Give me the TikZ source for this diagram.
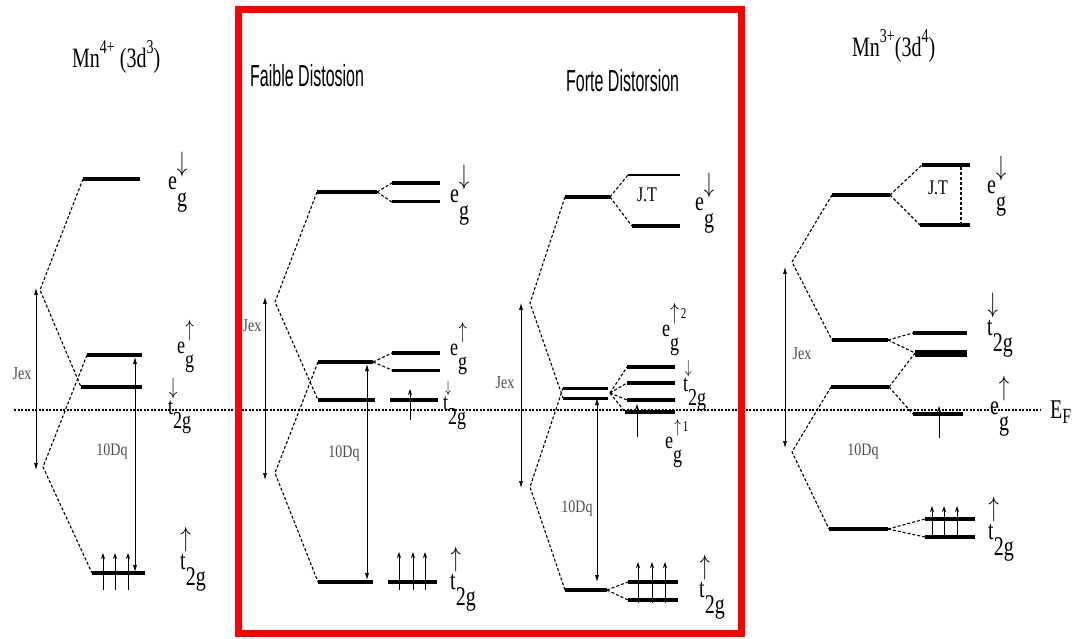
\documentclass[tikz,border=0pt]{standalone}
\usepackage{fontspec}
\setmainfont{Liberation Serif}
\setsansfont{Liberation Sans}
\usepackage{graphicx}
\usetikzlibrary{arrows.meta}
\newcommand{\mklevel}[5][lev]{\draw[#1] (#3,#5) coordinate (#2-l) -- (#4,#5) coordinate (#2-r);}
\newcommand{\tall}[2][1.35]{\scalebox{1}[#1]{#2}}
% #1 letter, #2 sub part under arrow, #3 rest of sub, #4 arrow, #5 arrow raise
\newcommand{\orblabel}[5]{\tall{#1\setbox0=\hbox{#2}\rlap{\hbox to \wd0{\hss\raisebox{#5}{#4}\hss}}\raisebox{-0.6em}{#2#3}}}
\begin{document}
\begin{tikzpicture}[x=1pt,y=-1pt,
  lev/.style={line width=4pt},
  thinlev/.style={line width=1.2pt},
  conn/.style={dash pattern=on 3pt off 2pt, line width=1.1pt},
  fermi/.style={dash pattern=on 2pt off 1.5pt, line width=1.3pt},
  gap/.style={line width=0.7pt, {Latex[length=7pt,width=4pt]}-{Latex[length=7pt,width=4pt]}},
  spin/.style={line width=0.9pt, -{Stealth[length=6pt,width=4pt]}},
  orb/.style={font=\fontsize{20}{22}\selectfont, inner sep=0pt},
  orbs/.style={font=\fontsize{18}{20}\selectfont, inner sep=0pt},
  small/.style={font=\fontsize{14}{15}\selectfont, inner sep=0pt, text=black!70},
  ttl/.style={font=\fontsize{20}{22}\selectfont, inner sep=0pt},
  ptitle/.style={font=\sffamily\fontsize{16}{18}\selectfont, inner sep=0pt},
  jt/.style={font=\fontsize{16}{18}\selectfont, inner sep=0pt}
]
\useasboundingbox (0,0) rectangle (1077,639);
\fill[white] (0,0) rectangle (1077,639);

% Fermi level
\coordinate (F-l) at (14,410);
\coordinate (F-r) at (1040,410);
\draw[fermi] (F-l) -- (F-r);

% ================= Panel A : Mn4+ =================
\node[ttl, anchor=base west] (A-title) at (72,68) {\tall[1.4]{Mn\raisebox{0.5em}{\fontsize{14}{14}\selectfont 4+} (3d\raisebox{0.5em}{\fontsize{14}{14}\selectfont 3})}};
\mklevel{A-egd}{83}{140}{179}
\mklevel{A-egu}{87}{142}{355}
\mklevel[lev,line width=4.5pt]{A-t2d}{81}{142}{387}
\mklevel{A-t2u}{92}{145}{573}
\coordinate (A-v1) at (40,290);
\coordinate (A-v2) at (43,467);
\draw[conn] (A-egd-l) -- (A-v1) -- (A-t2d-l);
\draw[conn] (A-egu-l) -- (A-v2) -- (A-t2u-l);
\coordinate (A-j1) at (36,288);
\coordinate (A-j2) at (36,470);
\draw[gap] (A-j1) -- (A-j2);
\coordinate (A-d1) at (135,357);
\coordinate (A-d2) at (135,572);
\draw[gap] (A-d1) -- (A-d2);
\foreach \x in {103,115,128} \draw[spin] (\x,590) -- (\x,553);
\node[small] (A-jex) at (22,374) {\tall[1.3]{Jex}};
\node[small] (A-dq) at (112,452) {\tall[1.25]{10Dq}};
\node[orb, anchor=base west] (A-L1) at (168,190) {\orblabel{e}{g}{}{$\downarrow$}{0.68em}};
\node[orbs, anchor=base west] (A-L2) at (177,353) {\orblabel{e}{g}{}{$\uparrow$}{0.68em}};
\node[orbs, anchor=base west] (A-L3) at (168,414) {\orblabel{t}{}{2g}{$\downarrow$}{0.82em}};
\node[orb, anchor=base west] (A-L4) at (180,569) {\orblabel{t}{}{2g}{$\uparrow$}{0.82em}};

% ================= Panel B : faible distorsion =================
\node[ptitle, anchor=base west] (B-title) at (250,87) {\tall[1.9]{Faible Distosion}};
\mklevel{B-egd}{317}{377}{192}
\mklevel{B-egd1}{392}{440}{183}
\mklevel[lev,line width=3pt]{B-egd2}{392}{440}{202}
\mklevel{B-egu}{318}{373}{362}
\mklevel[lev,line width=3.5pt]{B-egu1}{392}{440}{353}
\mklevel[lev,line width=3pt]{B-egu2}{392}{440}{370}
\mklevel{B-t2d}{318}{375}{400}
\mklevel{B-t2d1}{390}{438}{400}
\mklevel{B-t2u}{318}{373}{582}
\mklevel{B-t2u1}{388}{437}{582}
\coordinate (B-v1) at (275,302);
\coordinate (B-v2) at (275,473);
\draw[conn] (B-egd-l) -- (B-v1) -- (B-t2d-l);
\draw[conn] (B-egu-l) -- (B-v2) -- (B-t2u-l);
\draw[conn] (B-egd-r) -- (B-egd1-l);
\draw[conn] (B-egd-r) -- (B-egd2-l);
\draw[conn] (B-egu-r) -- (B-egu1-l);
\draw[conn] (B-egu-r) -- (B-egu2-l);
\coordinate (B-j1) at (265,297);
\coordinate (B-j2) at (265,480);
\draw[gap] (B-j1) -- (B-j2);
\coordinate (B-d1) at (367,364);
\coordinate (B-d2) at (367,580);
\draw[gap] (B-d1) -- (B-d2);
\draw[spin] (410,420) -- (410,389);
\foreach \x in {399,413,425} \draw[spin] (\x,590) -- (\x,552);
\node[small] (B-jex) at (252,326) {\tall[1.3]{Jex}};
\node[small] (B-dq) at (344,454) {\tall[1.25]{10Dq}};
\node[orb, anchor=base west] (B-L1) at (450,203) {\orblabel{e}{g}{}{$\downarrow$}{0.68em}};
\node[orbs, anchor=base west] (B-L2) at (450,355) {\orblabel{e}{g}{}{$\uparrow$}{0.68em}};
\node[orbs, anchor=base west] (B-L3) at (443,410) {\orblabel{t}{}{2g}{\scalebox{0.7}{$\downarrow$}}{0.72em}};
\node[orb, anchor=base west] (B-L4) at (450,589) {\orblabel{t}{}{2g}{$\uparrow$}{0.82em}};

% ================= Panel C : forte distorsion =================
\node[ptitle, anchor=base west] (C-title) at (566,92) {\tall[1.9]{Forte Distorsion}};
\mklevel{C-egd}{565}{610}{197}
\mklevel[thinlev]{C-egd1}{628}{680}{175}
\mklevel{C-egd2}{632}{680}{226}
\mklevel[lev,line width=3pt]{C-a}{563}{608}{388}
\mklevel[lev,line width=3pt]{C-b}{563}{608}{398}
\mklevel{C-r1}{627}{675}{367}
\mklevel{C-r2}{627}{675}{383}
\mklevel{C-r3}{627}{675}{400}
\mklevel{C-r4}{625}{675}{412}
\mklevel{C-t2u}{565}{607}{590}
\mklevel{C-t2u1}{628}{678}{582}
\mklevel{C-t2u2}{628}{678}{600}
\coordinate (C-v1) at (530,303);
\coordinate (C-v2) at (530,487);
\draw[conn] (C-egd-l) -- (C-v1) -- (C-b-l);
\draw[conn] (C-a-l) -- (C-v2) -- (C-t2u-l);
\coordinate (C-s) at (610,393);
\foreach \n in {r1,r2,r3,r4} \draw[conn] (C-s) -- (C-\n-l);
\draw[conn] (C-egd-r) -- (C-egd1-l);
\draw[conn] (C-egd-r) -- (C-egd2-l);
\draw[conn] (C-t2u-r) -- (C-t2u1-l);
\draw[conn] (C-t2u-r) -- (C-t2u2-l);
\node[jt] (C-jt) at (647,195) {\tall[1.3]{J.T}};
\coordinate (C-j1) at (521,303);
\coordinate (C-j2) at (521,488);
\draw[gap] (C-j1) -- (C-j2);
\coordinate (C-d1) at (597,398);
\coordinate (C-d2) at (597,582);
\draw[gap] (C-d1) -- (C-d2);
\draw[spin] (637,437) -- (637,404);
\foreach \x in {638,652,665} \draw[spin] (\x,603) -- (\x,562);
\node[small] (C-jex) at (505,383) {\tall[1.3]{Jex}};
\node[small] (C-dq) at (577,509) {\tall[1.25]{10Dq}};
\node[orb, anchor=base west] (C-L1) at (695,211) {\orblabel{e}{g}{}{$\downarrow$}{0.68em}};
\node[orbs, anchor=base west] (C-L2) at (662,336) {\orblabel{e}{g}{}{$\uparrow$\rlap{\raisebox{0.05em}{\fontsize{11}{11}\selectfont\,2}}}{0.68em}};
\node[orbs, anchor=base west] (C-L3) at (683,391) {\orblabel{t}{}{2g}{\scalebox{0.8}{$\downarrow$}}{0.74em}};
\node[orbs, anchor=base west] (C-L4) at (665,448) {\orblabel{e}{g}{}{\scalebox{0.8}{$\uparrow$}\rlap{\raisebox{0.05em}{\fontsize{11}{11}\selectfont\,1}}}{0.62em}};
\node[orb, anchor=base west] (C-L5) at (699,597) {\orblabel{t}{}{2g}{$\uparrow$}{0.82em}};

% ================= Panel D : Mn3+ =================
\node[ttl, anchor=base west] (D-title) at (852,57) {\tall[1.4]{Mn\raisebox{0.5em}{\fontsize{14}{14}\selectfont 3+}(3d\raisebox{0.5em}{\fontsize{14}{14}\selectfont 4})}};
\mklevel{D-egd}{832}{890}{195}
\mklevel{D-egd1}{922}{970}{165}
\mklevel{D-egd2}{920}{970}{225}
\draw[conn] (D-egd-r) -- (D-egd1-l);
\draw[conn] (D-egd-r) -- (D-egd2-l);
\coordinate (D-jt1) at (961,167);
\coordinate (D-jt2) at (961,223);
\draw[conn] (D-jt1) -- (D-jt2);
\node[jt] (D-jt) at (938,188) {\tall[1.3]{J.T}};
\mklevel{D-t2d}{832}{888}{340}
\mklevel{D-t2d1}{913}{967}{333}
\mklevel[lev,line width=7pt]{D-t2d2}{915}{967}{353}
\mklevel{D-egu}{831}{889}{387}
\mklevel{D-egu1}{913}{963}{414}
\mklevel{D-t2u}{829}{888}{529}
\mklevel{D-t2u1}{925}{975}{519}
\mklevel{D-t2u2}{925}{975}{537}
\coordinate (D-v1) at (792,262);
\coordinate (D-v2) at (792,452);
\draw[conn] (D-egd-l) -- (D-v1) -- (D-t2d-l);
\draw[conn] (D-egu-l) -- (D-v2) -- (D-t2u-l);
\draw[conn] (D-t2d-r) -- (D-t2d1-l);
\draw[conn] (D-t2d-r) -- (D-t2d2-l);
\draw[conn] (D-egu-r) -- (D-t2d2-l);
\draw[conn] (D-egu-r) -- (D-egu1-l);
\draw[conn] (D-t2u-r) -- (D-t2u1-l);
\draw[conn] (D-t2u-r) -- (D-t2u2-l);
\coordinate (D-j1) at (785,267);
\coordinate (D-j2) at (785,448);
\draw[gap] (D-j1) -- (D-j2);
\draw[spin] (939,438) -- (939,406);
\foreach \x in {932,944,957} \draw[spin] (\x,538) -- (\x,506);
\node[small] (D-jex) at (802,354) {\tall[1.3]{Jex}};
\node[small] (D-dq) at (863,452) {\tall[1.25]{10Dq}};
\node[orb, anchor=base west] (D-L1) at (987,194) {\orblabel{e}{g}{}{$\downarrow$}{0.68em}};
\node[orb, anchor=base west] (D-L2) at (987,335) {\orblabel{t}{}{2g}{$\downarrow$}{0.82em}};
\node[orb, anchor=base west] (D-L3) at (990,414) {\orblabel{e}{g}{}{$\uparrow$}{0.68em}};
\node[orb, anchor=base west] (D-EF) at (1050,418) {\tall{E\raisebox{-0.2em}{\fontsize{16}{16}\selectfont F}}};
\node[orb, anchor=base west] (D-L4) at (988,539) {\orblabel{t}{}{2g}{$\uparrow$}{0.82em}};

% red frame
\draw[red, line width=7pt] (238,10) rectangle (741,633);
\end{tikzpicture}
\end{document}
